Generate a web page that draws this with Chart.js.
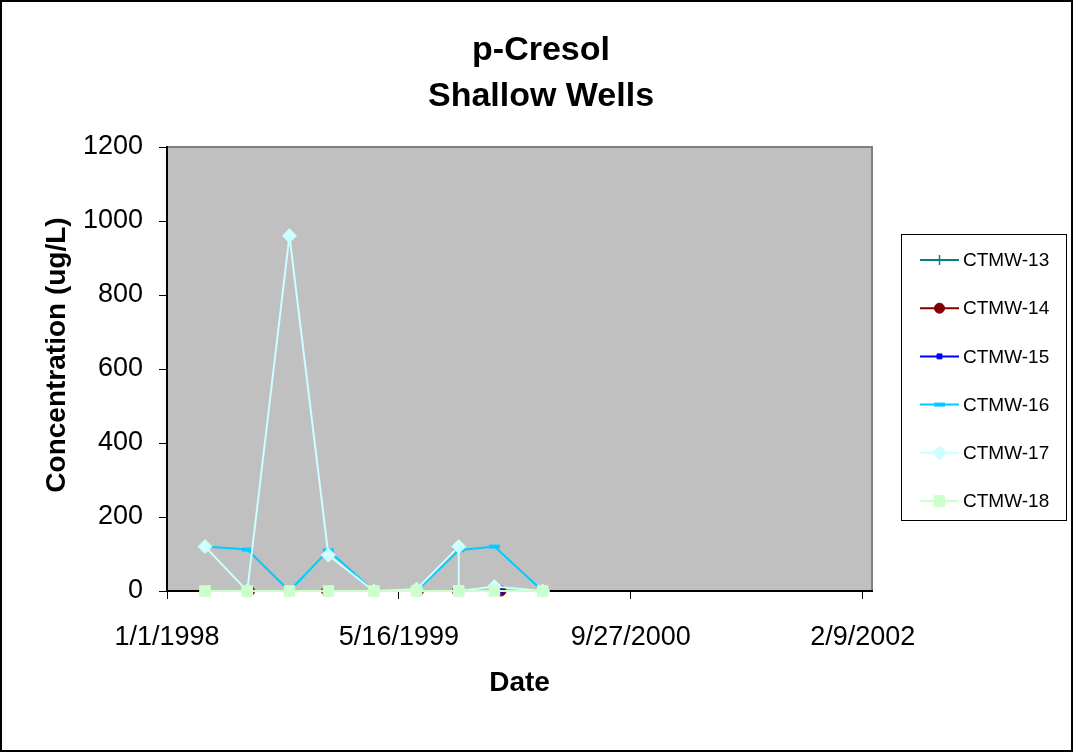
<!DOCTYPE html>
<html>
<head>
<meta charset="utf-8">
<title>p-Cresol Shallow Wells</title>
<script src="https://cdn.jsdelivr.net/npm/chart.js@4.4.1/dist/chart.umd.min.js"></script>
<style>
  html, body { margin: 0; padding: 0; background: #fff; }
  #wrap { width: 1073px; height: 753px; }
</style>
</head>
<body>
<div id="wrap"><canvas id="chart" width="1073" height="753"></canvas></div>
<script>
// 관측정별 채취일 / 농도 (ug/L)
const sampleDates = ['3/24/1998', '6/23/1998', '9/22/1998', '12/15/1998', '3/23/1999',
                     '6/23/1999', '9/22/1999', '12/8/1999', '3/21/2000'];

const ctmw13Dates = sampleDates;
const ctmw13Values = [0, 0, 0, 0, 0, 0, 0, 0, 0];

const ctmw14Dates = ['3/24/1998', '6/28/1998', '9/22/1998', '12/11/1998', '3/23/1999',
                     '6/27/1999', '9/19/1999', '12/22/1999', '3/21/2000'];
const ctmw14Values = [0, 0, 0, 0, 0, 0, 0, 0, 0];

const ctmw15Dates = ['3/24/1998', '6/23/1998', '9/27/1998', '12/15/1998', '3/23/1999',
                     '6/23/1999', '9/22/1999', '12/22/1999', '3/21/2000'];
const ctmw15Values = [0, 0, 0, 0, 0, 0, 0, 0, 0];

const ctmw16Dates = sampleDates;
const ctmw16Values = [120, 112, 0, 110, 0, 0, 110, 120, 0];

const ctmw17Dates = ['3/24/1998', '6/23/1998', '9/22/1998', '12/15/1998', '3/23/1999',
                     '6/23/1999', '9/22/1999', '9/22/1999', '12/8/1999', '3/21/2000'];
const ctmw17Values = [120, 0, 960, 97, 0, 5, 120, 0, 12, 0];

const ctmw18Dates = sampleDates;
const ctmw18Values = [0, 0, 0, 0, 0, 0, 0, 0, 0];

const wellNames = ['CTMW-13', 'CTMW-14', 'CTMW-15', 'CTMW-16', 'CTMW-17', 'CTMW-18'];

// 축 눈금
const xTickLabels = ['1/1/1998', '5/16/1999', '9/27/2000', '2/9/2002'];
const xAxisStart = '1/1/1998';
const xAxisEnd = '3/1/2002';
const yTicks = [0, 200, 400, 600, 800, 1000, 1200];

const titleLines = ['p-Cresol', 'Shallow Wells'];
const yAxisTitle = 'Concentration (ug/L)';

// 선 / 마커 스타일
const seriesStyles = [
    { color: '#008080', marker: 'cross',   radius: 5,   markerWidth: 1.5 },
    { color: '#800000', marker: 'circle',  radius: 5,   markerWidth: 1 },
    { color: '#0000FF', marker: 'rect',    radius: 3.5, markerWidth: 1 },
    { color: '#00CCFF', marker: 'line',    radius: 5.5, markerWidth: 4 },
    { color: '#CCFFFF', marker: 'rectRot', radius: 7,   markerWidth: 1 },
    { color: '#CCFFCC', marker: 'rect',    radius: 7.5, markerWidth: 1 }
];

const FONT = '"Liberation Sans", Arial, sans-serif';

function dateToDay(s) {
    const [m, d, y] = s.split('/').map(Number);
    return (Date.UTC(y, m - 1, d) - Date.UTC(1998, 0, 1)) / 86400000;
}

function dayToDate(n) {
    const t = new Date(Date.UTC(1998, 0, 1) + n * 86400000);
    return `${t.getUTCMonth() + 1}/${t.getUTCDate()}/${t.getUTCFullYear()}`;
}

function toPoints(dates, values) {
    return dates.map((d, i) => ({ x: dateToDay(d), y: values[i] }));
}

const seriesData = [
    toPoints(ctmw13Dates, ctmw13Values),
    toPoints(ctmw14Dates, ctmw14Values),
    toPoints(ctmw15Dates, ctmw15Values),
    toPoints(ctmw16Dates, ctmw16Values),
    toPoints(ctmw17Dates, ctmw17Values),
    toPoints(ctmw18Dates, ctmw18Values)
];

// 배경, 테두리, 제목, 범례
const framePlugin = {
    id: 'frame',
    beforeDraw(chart) {
        const ctx = chart.ctx;
        const a = chart.chartArea;
        ctx.save();
        ctx.fillStyle = '#fff';
        ctx.fillRect(0, 0, chart.width, chart.height);
        ctx.strokeStyle = '#000';
        ctx.lineWidth = 2;
        ctx.strokeRect(1, 1, chart.width - 2, chart.height - 3);

        ctx.fillStyle = '#C0C0C0';
        ctx.fillRect(a.left, a.top, a.right - a.left, a.bottom - a.top);
        ctx.strokeStyle = '#808080';
        ctx.lineWidth = 2;
        ctx.beginPath();
        ctx.moveTo(a.left, a.top);
        ctx.lineTo(a.right, a.top);
        ctx.lineTo(a.right, a.bottom);
        ctx.stroke();

        ctx.fillStyle = '#000';
        ctx.font = 'bold 34px ' + FONT;
        ctx.textAlign = 'center';
        ctx.textBaseline = 'middle';
        titleLines.forEach((t, i) => ctx.fillText(t, 541, 51 + i * 46));

        // 세로축 제목
        ctx.translate(57, 355);
        ctx.rotate(-Math.PI / 2);
        ctx.font = 'bold 28px ' + FONT;
        ctx.fillText(yAxisTitle, 0, 0);
        ctx.restore();
    },
    afterDraw(chart) {
        const ctx = chart.ctx;
        ctx.save();
        ctx.strokeStyle = '#000';
        ctx.lineWidth = 1;
        ctx.strokeRect(901.5, 234.5, 165, 286);

        chart.data.datasets.forEach((ds, i) => {
            const y = 260 + i * 48.2;
            const st = seriesStyles[i];
            ctx.strokeStyle = st.color;
            ctx.fillStyle = st.color;
            ctx.lineWidth = 2;
            ctx.beginPath();
            ctx.moveTo(920, y);
            ctx.lineTo(959, y);
            ctx.stroke();
            ctx.lineWidth = st.markerWidth;
            Chart.helpers.drawPoint(ctx, {
                pointStyle: st.marker, radius: st.radius, rotation: 0, borderWidth: st.markerWidth
            }, 939.5, y);

            ctx.fillStyle = '#000';
            ctx.font = '19px ' + FONT;
            ctx.textAlign = 'left';
            ctx.textBaseline = 'middle';
            ctx.fillText(ds.label, 963, y + 1);
        });
        ctx.restore();
    }
};

const ctx = document.getElementById('chart').getContext('2d');
const chart = new Chart(ctx, {
    type: 'line',
    data: {
        datasets: wellNames.map((name, i) => ({
            label: name,
            data: seriesData[i],
            borderColor: seriesStyles[i].color,
            backgroundColor: seriesStyles[i].color,
            borderWidth: 2,
            pointStyle: seriesStyles[i].marker,
            pointRadius: seriesStyles[i].radius,
            pointBorderWidth: seriesStyles[i].markerWidth,
            pointBackgroundColor: seriesStyles[i].color,
            pointBorderColor: seriesStyles[i].color,
            tension: 0,
            clip: false,
            order: wellNames.length - i
        }))
    },
    options: {
        responsive: false,
        animation: false,
        layout: { padding: { top: 147, right: 201, bottom: 0, left: 0 } },
        plugins: {
            legend: { display: false },
            title: { display: false },
            tooltip: { enabled: false }
        },
        scales: {
            x: {
                type: 'linear',
                min: dateToDay(xAxisStart),
                max: dateToDay(xAxisEnd),
                afterBuildTicks(scale) {
                    scale.ticks = xTickLabels.map(s => ({ value: dateToDay(s) }));
                },
                afterFit(scale) { scale.height = 162; },
                ticks: {
                    color: '#000',
                    font: { family: FONT, size: 27 },
                    padding: 22,
                    maxRotation: 0,
                    callback: v => dayToDate(v)
                },
                grid: { drawOnChartArea: false, drawTicks: true, tickLength: 8, color: '#000' },
                border: { display: true, color: '#000', width: 2 },
                title: {
                    display: true,
                    text: 'Date',
                    color: '#000',
                    font: { family: FONT, size: 28, weight: 'bold' },
                    padding: { top: 0, bottom: 53 }
                }
            },
            y: {
                min: 0,
                max: 1200,
                afterBuildTicks(scale) {
                    scale.ticks = yTicks.map(v => ({ value: v }));
                },
                afterFit(scale) { scale.width = 167; },
                ticks: {
                    color: '#000',
                    font: { family: FONT, size: 27 },
                    padding: 16,
                    callback: v => String(v)
                },
                grid: { drawOnChartArea: false, drawTicks: true, tickLength: 8, color: '#000' },
                border: { display: true, color: '#000', width: 2 }
            }
        }
    },
    plugins: [framePlugin]
});
</script>
</body>
</html>
